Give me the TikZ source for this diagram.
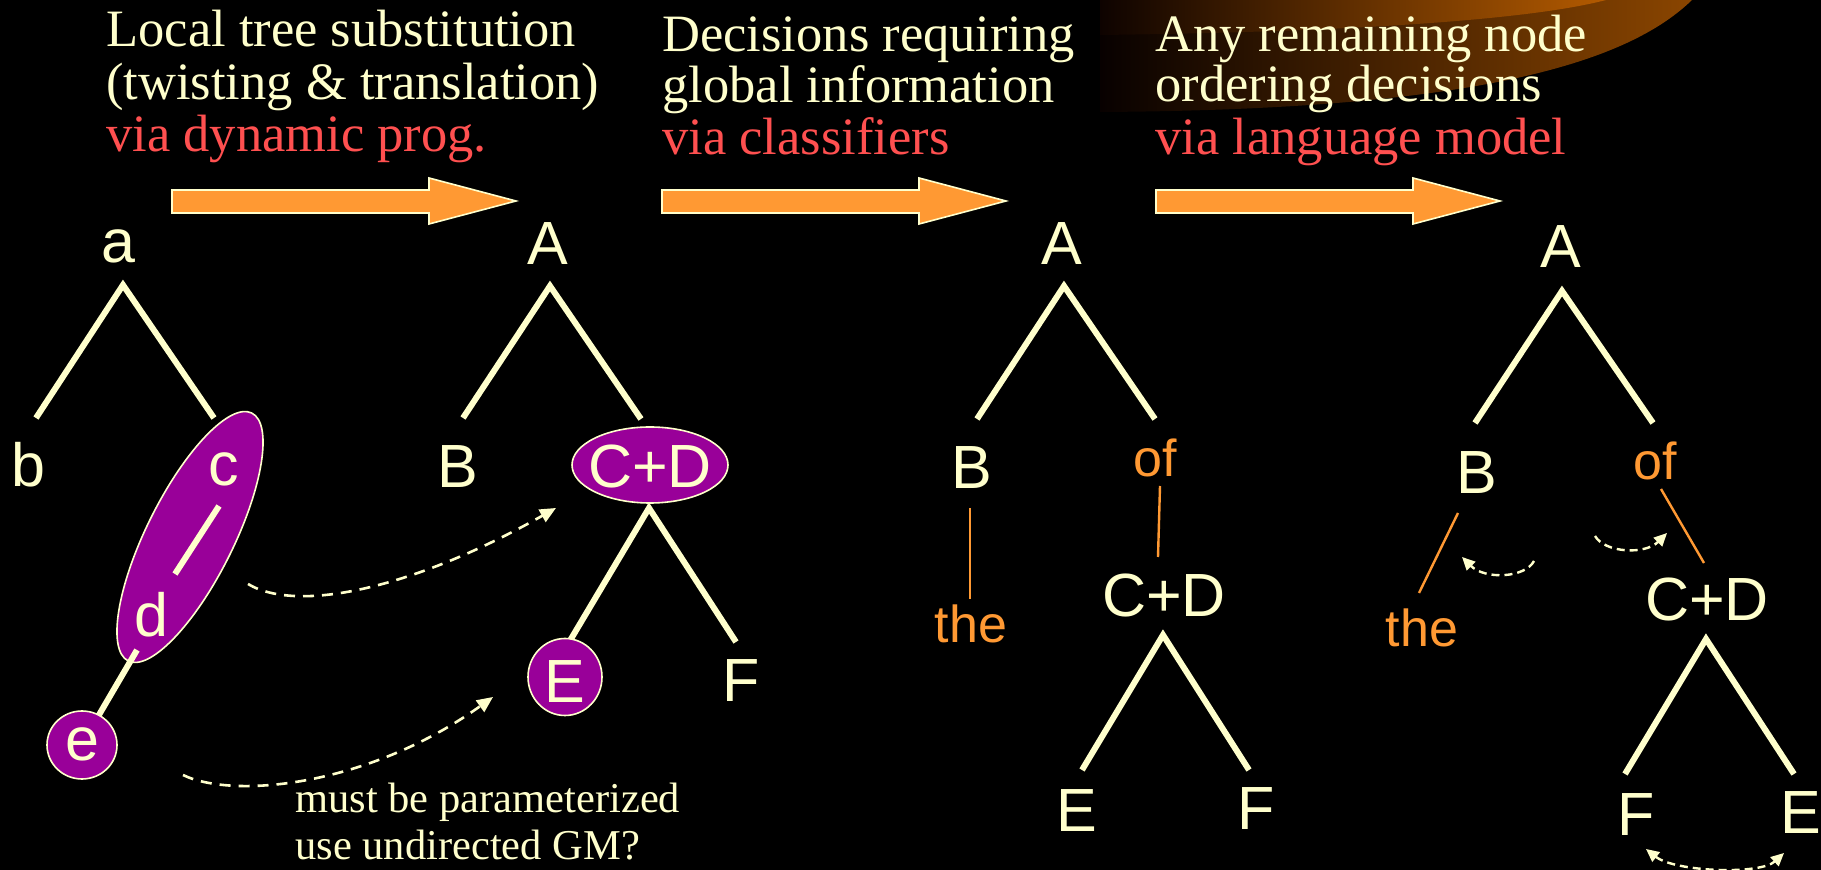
\documentclass[tikz,border=0pt]{standalone}
\usepackage{fontspec}
\setmainfont{Liberation Serif}
\newfontfamily\labelfont{Liberation Sans}
\usetikzlibrary{shapes.geometric,arrows.meta}
\definecolor{cream}{HTML}{FFFFCC}
\definecolor{redtxt}{HTML}{FF5050}
\definecolor{orng}{HTML}{FF9933}
\definecolor{purp}{HTML}{990099}
\definecolor{glowL}{HTML}{080100}
\definecolor{glowM}{HTML}{4E2400}
\definecolor{glowA}{HTML}{8A4500}
\definecolor{glowIL}{HTML}{0E0300}
\definecolor{glowB}{HTML}{B35A00}
\begin{document}
\begin{tikzpicture}[x=0.5pt,y=-0.5pt,
  titletext/.style={anchor=base west, inner sep=0, text=cream, font=\fontsize{26.25pt}{28pt}\selectfont},
  viatext/.style={titletext, text=redtxt},
  lbl/.style={anchor=base, inner sep=0, text=cream, font=\labelfont\fontsize{30.5pt}{33pt}\selectfont},
  olbl/.style={anchor=base, inner sep=0, text=orng, font=\labelfont\fontsize{26pt}{28pt}\selectfont},
  branch/.style={draw=cream, line width=3pt, line join=miter, line cap=butt},
  orngline/.style={draw=orng, line width=1.2pt},
  blob/.style={ellipse, draw=cream, line width=0.8pt, fill=purp, inner sep=0},
  blockarrow/.style={fill=orng, draw=cream, line width=0.8pt, line join=miter},
  movearrow/.style={draw=cream, line width=1.3pt, dash pattern=on 5.5pt off 4pt, -{Triangle[length=8pt,width=7pt]}},
  swaparrow/.style={draw=cream, line width=1.2pt, dash pattern=on 4pt off 2.5pt, -{Triangle[length=6.5pt,width=6pt]}},
  notetext/.style={anchor=base west, inner sep=0, text=cream, font=\fontsize{21.25pt}{23pt}\selectfont}
]
% background
\fill[black] (0,0) rectangle (1821,870);
\useasboundingbox (0,0) rectangle (1821,870);
% glow swoosh
\shade[left color=glowL, middle color=glowM, right color=glowA] (1100,0) -- (1100,112) .. controls (1450,110) and (1620,70) .. (1692,0) -- cycle;
\shade[left color=glowIL, right color=glowB] (1100,0) -- (1100,35) .. controls (1350,32) and (1530,20) .. (1606,0) -- cycle;

% block arrows
\draw[blockarrow] (172,190) -- (429,190) -- (429,178) -- (516,201) -- (429,224) -- (429,213) -- (172,213) -- cycle;
\draw[blockarrow] (662,190) -- (919,190) -- (919,178) -- (1006,201) -- (919,224) -- (919,213) -- (662,213) -- cycle;
\draw[blockarrow] (1156,190) -- (1413,190) -- (1413,178) -- (1500,201) -- (1413,224) -- (1413,213) -- (1156,213) -- cycle;

% titles
\node[titletext] (t1a) at (106,47) {Local tree substitution};
\node[titletext] (t1b) at (106,99.5) {(twisting \& translation)};
\node[viatext] (t1c) at (106,152) {via dynamic prog.};
\node[titletext] (t2a) at (662,52) {Decisions requiring};
\node[titletext] (t2b) at (662,103) {global information};
\node[viatext] (t2c) at (662,155) {via classifiers};
\node[titletext] (t3a) at (1155,52) {Any remaining node};
\node[titletext] (t3b) at (1155,102) {ordering decisions};
\node[viatext] (t3c) at (1155,155) {via language model};

% ---------- tree 1 ----------
\node[lbl] (a1) at (118,263) {a};
\coordinate (a1top) at (123,285);
\coordinate (a1l) at (36,418);
\coordinate (a1r) at (214,418);
\draw[branch] (a1l) -- (a1top) -- (a1r);
\node[lbl] (b1) at (28,487) {b};
\node[blob, minimum width=138.5pt, minimum height=43.5pt, rotate=63.5] (cdell) at (190,537) {};
\node[lbl] (c1) at (224,486) {c};
\coordinate (c1s) at (219,506);
\coordinate (d1n) at (175,574);
\draw[branch] (c1s) -- (d1n);
\node[lbl] (d1) at (151,637) {d};
\coordinate (d1s) at (137,650);
\coordinate (e1n) at (96,720);
\draw[branch] (d1s) -- (e1n);
\node[blob, minimum width=35pt, minimum height=34pt] (ecirc) at (82,745) {};
\node[lbl] (e1) at (82,761) {e};

% moves tree1 -> tree2
\coordinate (m1s) at (248,584);
\coordinate (m1e) at (556,508);
\draw[movearrow] (m1s) .. controls (300,615) and (420,585) .. (m1e);
\coordinate (m2s) at (183,775);
\coordinate (m2e) at (493,697);
\draw[movearrow] (m2s) .. controls (235,800) and (370,785) .. (m2e);
\node[notetext] (n1) at (295,813) {must be parameterized};
\node[notetext] (n2) at (295,860) {use undirected GM?};

% ---------- tree 2 ----------
\node[lbl] (A2) at (548,265) {A};
\coordinate (A2top) at (550,286);
\coordinate (A2l) at (463,418);
\coordinate (A2r) at (641,419);
\draw[branch] (A2l) -- (A2top) -- (A2r);
\node[lbl] (B2) at (458,488) {B};
\node[blob, minimum width=78pt, minimum height=38pt] (cdE2) at (650,465) {};
\node[lbl] (CD2) at (650,488) {C+D};
\coordinate (CD2top) at (649,508);
\coordinate (CD2l) at (568,644);
\coordinate (CD2r) at (736,642);
\draw[branch] (CD2l) -- (CD2top) -- (CD2r);
\node[blob, minimum width=37pt, minimum height=38.5pt] (Ecirc2) at (565,677) {};
\node[lbl] (E2) at (565,703) {E};
\node[lbl] (F2) at (741,702) {F};

% ---------- tree 3 ----------
\node[lbl] (A3) at (1062,265) {A};
\coordinate (A3top) at (1064,286);
\coordinate (A3l) at (977,419);
\coordinate (A3r) at (1155,419);
\draw[branch] (A3l) -- (A3top) -- (A3r);
\node[lbl] (B3) at (972,489) {B};
\node[olbl] (of3) at (1155,477) {of};
\coordinate (B3s) at (970,508);
\coordinate (the3n) at (970,599);
\draw[orngline] (B3s) -- (the3n);
\node[olbl] (the3) at (971,643) {the};
\coordinate (of3s) at (1160,486);
\coordinate (CD3n) at (1158,557);
\draw[orngline] (of3s) -- (CD3n);
\node[lbl] (CD3) at (1164,617) {C+D};
\coordinate (CD3top) at (1163,635);
\coordinate (CD3l) at (1082,770);
\coordinate (CD3r) at (1249,770);
\draw[branch] (CD3l) -- (CD3top) -- (CD3r);
\node[lbl] (E3) at (1077,832) {E};
\node[lbl] (F3) at (1256,830) {F};

% ---------- tree 4 ----------
\node[lbl] (A4) at (1561,268) {A};
\coordinate (A4top) at (1562,291);
\coordinate (A4l) at (1475,423);
\coordinate (A4r) at (1653,423);
\draw[branch] (A4l) -- (A4top) -- (A4r);
\node[lbl] (B4) at (1477,494) {B};
\node[olbl] (of4) at (1655,480) {of};
\coordinate (B4s) at (1458,513);
\coordinate (the4n) at (1419,593);
\draw[orngline] (B4s) -- (the4n);
\node[olbl] (the4) at (1422,647) {the};
\coordinate (of4s) at (1661,489);
\coordinate (CD4n) at (1704,563);
\draw[orngline] (of4s) -- (CD4n);
\node[lbl] (CD4) at (1707,621) {C+D};
\coordinate (CD4top) at (1706,639);
\coordinate (CD4l) at (1625,774);
\coordinate (CD4r) at (1794,774);
\draw[branch] (CD4l) -- (CD4top) -- (CD4r);
\node[lbl] (F4) at (1636,836) {F};
\node[lbl] (E4) at (1801,834) {E};

% reordering arrows
\coordinate (s1a) at (1534,561);
\coordinate (s1b) at (1462,557);
\draw[swaparrow] (s1a) .. controls (1525,578) and (1485,580) .. (s1b);
\coordinate (s2a) at (1595,536);
\coordinate (s2b) at (1667,533);
\draw[swaparrow] (s2a) .. controls (1605,553) and (1645,555) .. (s2b);
\coordinate (s3a) at (1646,849);
\coordinate (s3b) at (1784,853);
\draw[swaparrow, {Triangle[length=6.5pt,width=6pt]}-{Triangle[length=6.5pt,width=6pt]}] (s3a) .. controls (1675,872) and (1760,875) .. (s3b);
\end{tikzpicture}
\end{document}
